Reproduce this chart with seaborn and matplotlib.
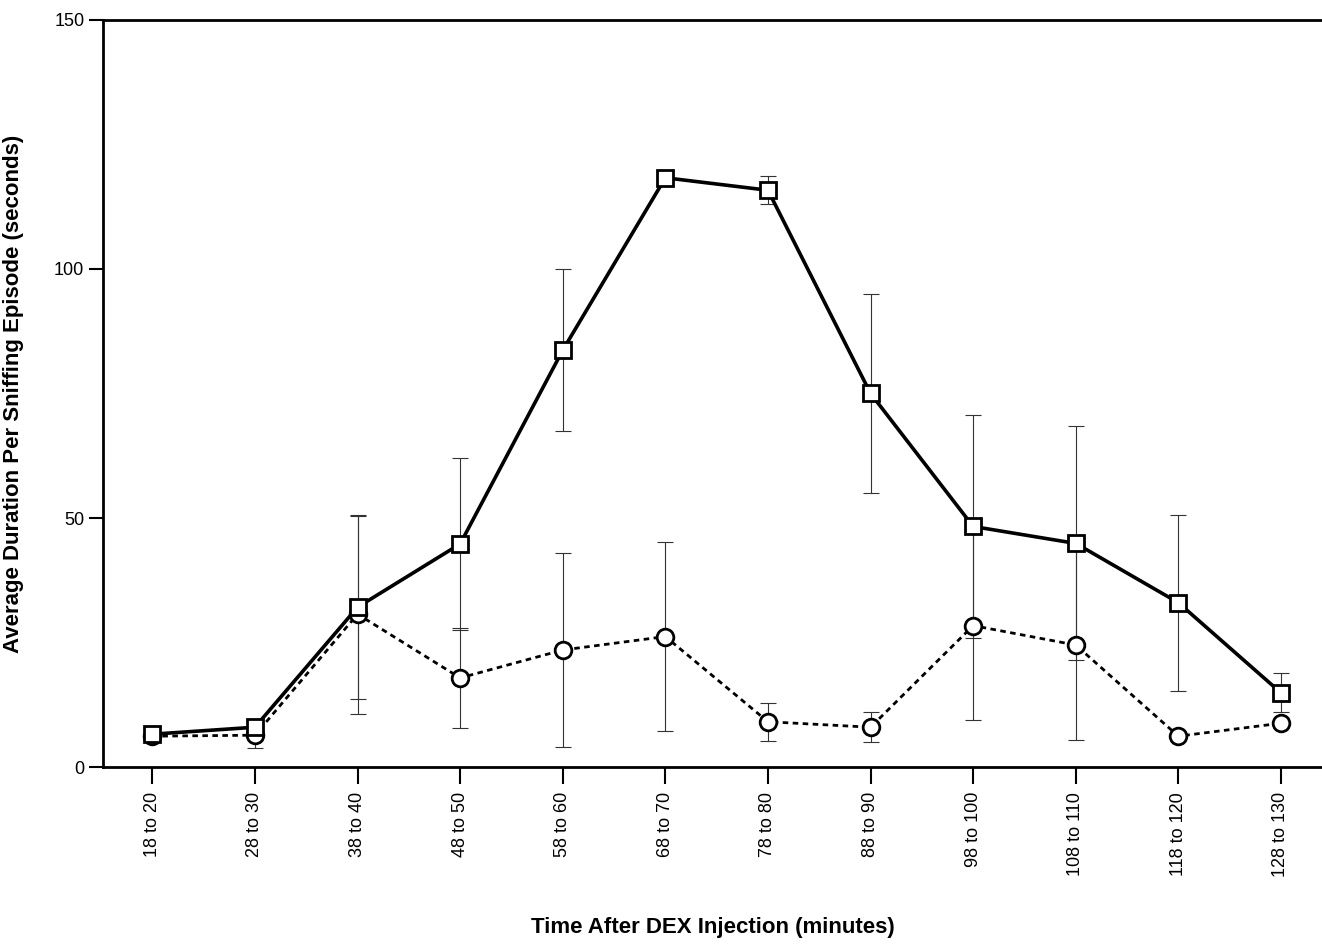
import numpy as np
import pandas as pd
import seaborn as sns
import matplotlib.pyplot as plt

# time bins (minutes after DEX injection)
bins = ["18 to 20", "28 to 30", "38 to 40", "48 to 50", "58 to 60", "68 to 70",
        "78 to 80", "88 to 90", "98 to 100", "108 to 110", "118 to 120", "128 to 130"]

# squares, solid line
sq_mean = [6.6, 8.0, 32.1, 44.8, 83.7, 118.3, 115.8, 75.0, 48.3, 44.9, 33.0, 14.9]
sq_err = [0, 0, 18.4, 17.2, 16.2, 0, 2.8, 19.9, 22.4, 23.5, 17.7, 3.9]

# circles, dashed line
ci_mean = [6.2, 6.4, 30.7, 17.9, 23.5, 26.2, 9.1, 8.0, 28.4, 24.5, 6.2, 8.8]
ci_err = [0, 2.6, 20.0, 10.0, 19.5, 19.0, 3.8, 3.0, 19.0, 19.1, 0, 0]

sns.set_style("ticks")
plt.rcParams["font.family"] = ["Liberation Sans Narrow", "Liberation Sans", "DejaVu Sans"]

pos = np.arange(len(bins))
df = pd.DataFrame({"pos": pos, "sq": sq_mean, "ci": ci_mean})

fig = plt.figure(figsize=(13.22, 9.47), dpi=100)
ax = fig.add_axes([0.078, 0.19, 0.922, 0.789])

# error bars first so the markers sit on top
for m, e in [(sq_mean, sq_err), (ci_mean, ci_err)]:
    m = np.array(m)
    e = np.array(e)
    keep = e > 0
    ax.errorbar(pos[keep], m[keep], yerr=e[keep], fmt="none", ecolor="#333333",
                elinewidth=0.8, capsize=6, capthick=0.8, zorder=1)

sns.lineplot(data=df, x="pos", y="ci", ax=ax, color="black", lw=2.0,
             linestyle=(0, (2, 1.6)), marker="o", markersize=12,
             markerfacecolor="white", markeredgecolor="black", markeredgewidth=2.0,
             zorder=3)
sns.lineplot(data=df, x="pos", y="sq", ax=ax, color="black", lw=2.6,
             marker="s", markersize=11.5, markerfacecolor="white",
             markeredgecolor="black", markeredgewidth=2.0, zorder=4)

ax.set_xlim(-0.48, 11.4)
ax.set_ylim(0, 150)
ax.set_yticks([0, 50, 100, 150])
ax.set_xticks(pos)
ax.set_xticklabels(bins, rotation=90, fontsize=13)
ax.tick_params(axis="y", labelsize=13, length=10, width=1.5, direction="out",
               colors="black")
ax.tick_params(axis="x", length=12, width=1.5, direction="out", pad=6,
               colors="black")

for s in ["left", "top", "bottom"]:
    ax.spines[s].set_linewidth(2.0)
    ax.spines[s].set_color("black")
ax.spines["right"].set_visible(False)

ax.set_ylabel("Average Duration Per Sniffing Episode (seconds)", fontsize=16,
              fontweight="bold", labelpad=22, color="black")
ax.set_xlabel("Time After DEX Injection (minutes)", fontsize=16,
              fontweight="bold", color="black")
ax.xaxis.set_label_coords(0.5, -0.2)

fig.savefig("out.png", dpi=100)
